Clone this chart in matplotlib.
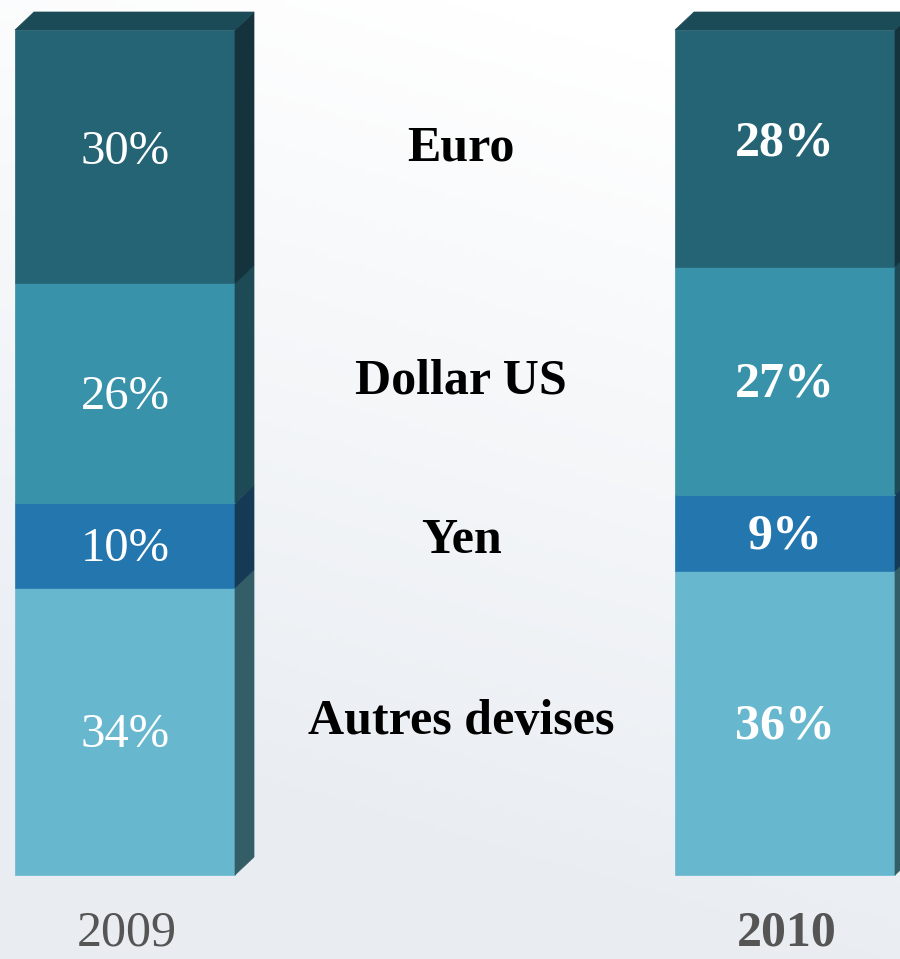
import matplotlib
matplotlib.use('Agg')
import matplotlib.pyplot as plt
import numpy as np
from matplotlib.patches import Polygon, Rectangle

# ---- data ----
years = ['2009', '2010']
currencies = ['Euro', 'Dollar US', 'Yen', 'Autres devises']
shares_2009 = [30, 26, 10, 34]
shares_2010 = [28, 27, 9, 36]

# ---- style ----
front_colors = ['#246474', '#3792AA', '#2477AE', '#67B8CF']
side_colors = ['#15333D', '#1D4A55', '#143A55', '#345E67']
top_color = '#1C4B58'

W, H = 900, 959
fig = plt.figure(figsize=(W / 100, H / 100), dpi=100)
ax = fig.add_axes([0, 0, 1, 1])
px_per_pct = 8.45
y_bottom_px, y_top_px = 875, 30
ax.set_xlim(0, W)
ax.set_ylim(-(H - y_bottom_px) / px_per_pct, 100 + y_top_px / px_per_pct)
ax.axis('off')

# background gradient
yy, xx = np.mgrid[0:1:200j, 0:1:200j]
t = np.clip(yy * 1.1 + (1 - xx) * 0.3 - 0.15, 0, 1)
top_rgb = np.array([1.0, 1.0, 1.0])
bot_rgb = np.array([0xE9, 0xED, 0xF2]) / 255
img = top_rgb[None, None, :] * (1 - t[..., None]) + bot_rgb[None, None, :] * t[..., None]
ax.imshow(img, extent=[0, W, ax.get_ylim()[0], ax.get_ylim()[1]], aspect='auto',
          origin='upper', zorder=0)

dx = 19
dy = 18 / px_per_pct
bar_w = 220
bar_lefts = [15, 675]
serif = ['Liberation Serif', 'DejaVu Serif']
text_shift = -4 / px_per_pct  # move text slightly down

for bi, (shares, x0) in enumerate(zip([shares_2009, shares_2010], bar_lefts)):
    x1 = x0 + bar_w
    order = list(range(len(currencies)))[::-1]
    bottom = 0
    total = sum(shares)
    for i in order:
        v = shares[i]
        top = bottom + v
        ax.add_patch(Rectangle((x0, bottom), bar_w, v, facecolor=front_colors[i],
                               edgecolor=front_colors[i], lw=0.5, zorder=2))
        ax.add_patch(Polygon([(x1, bottom), (x1 + dx, bottom + dy), (x1 + dx, top + dy), (x1, top)],
                             closed=True, facecolor=side_colors[i], edgecolor=side_colors[i],
                             lw=0.5, zorder=2))
        if top >= total:
            ax.add_patch(Polygon([(x0, top), (x0 + dx, top + dy), (x1 + dx, top + dy), (x1, top)],
                                 closed=True, facecolor=top_color, edgecolor=top_color,
                                 lw=0.5, zorder=2))
            cy = (bottom + top + dy) / 2
        else:
            cy = (bottom + top) / 2
        ax.text(x0 + bar_w / 2, cy + text_shift, f'{v}%', ha='center', va='center', color='white',
                fontsize=35 if bi == 0 else 36, fontweight='normal' if bi == 0 else 'bold',
                family=serif, zorder=3)
        bottom = top
    ax.text(x0 + bar_w / 2 + 2, -(946 - y_bottom_px) / px_per_pct, years[bi],
            ha='center', va='baseline', color='#555555',
            fontsize=36, fontweight='normal' if bi == 0 else 'bold', family=serif, zorder=3)

# category labels in the middle
label_y_px = [145, 378, 537, 718]
for name, py in zip(currencies, label_y_px):
    ax.text(461, (y_bottom_px - py) / px_per_pct + text_shift, name, ha='center', va='center',
            color='black', fontsize=36, fontweight='bold', family=serif, zorder=3)

fig.savefig('out.png', dpi=100)
